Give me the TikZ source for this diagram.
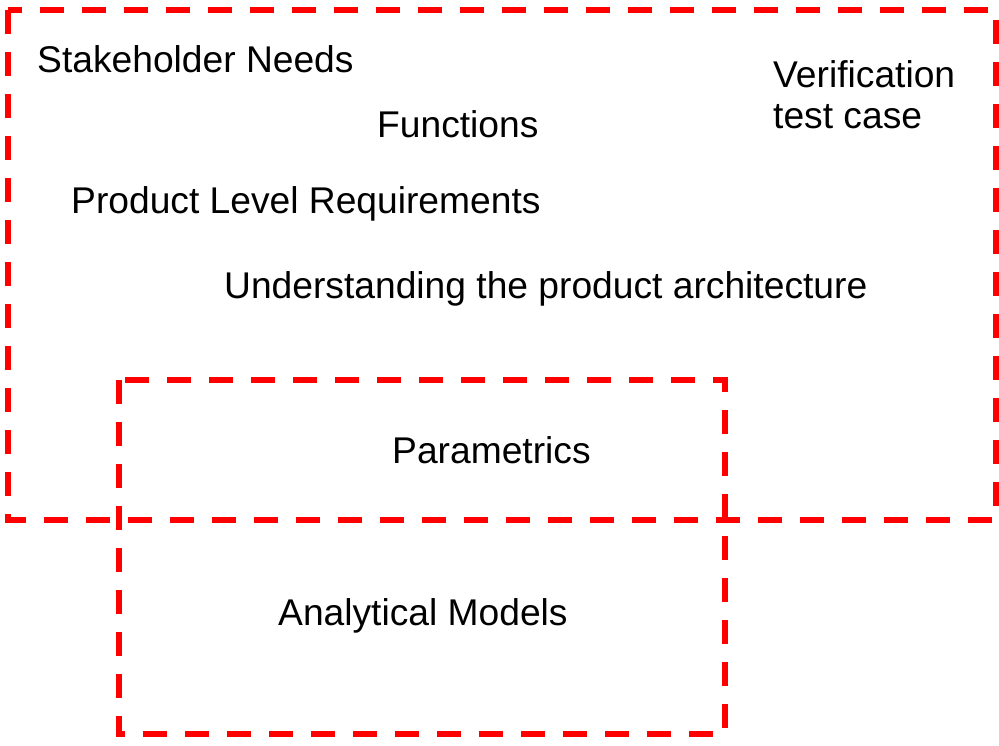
\documentclass[tikz,border=0pt]{standalone}
\usepackage{fontspec}
\setmainfont{Liberation Sans}
\definecolor{zonered}{RGB}{255,0,0}

\begin{document}
\begin{tikzpicture}[
  x=1pt, y=-1pt,
  zonebox/.style={draw=zonered, line width=6pt, dash pattern=on 24pt off 18pt},
  labeltext/.style={anchor=base west, inner sep=0pt, font=\fontsize{37.2}{41}\selectfont, align=left},
  ]

\useasboundingbox (0,0) rectangle (999,745);

% the two zones
\draw[zonebox] (8,10) rectangle (996,520);
\draw[zonebox] (119,380) rectangle (725,734);

\node[labeltext] (needs) at (37,72) {Stakeholder Needs};
\node[labeltext] (func) at (377,137) {Functions};
\node[labeltext] (verif) at (773,128) {Verification\\test case};
\node[labeltext] (req) at (71,213) {Product Level Requirements};
\node[labeltext] (arch) at (224,298) {Understanding the product architecture};

\node[labeltext] (param) at (392,463) {Parametrics};
\node[labeltext] (models) at (278,625) {Analytical Models};

\end{tikzpicture}
\end{document}
